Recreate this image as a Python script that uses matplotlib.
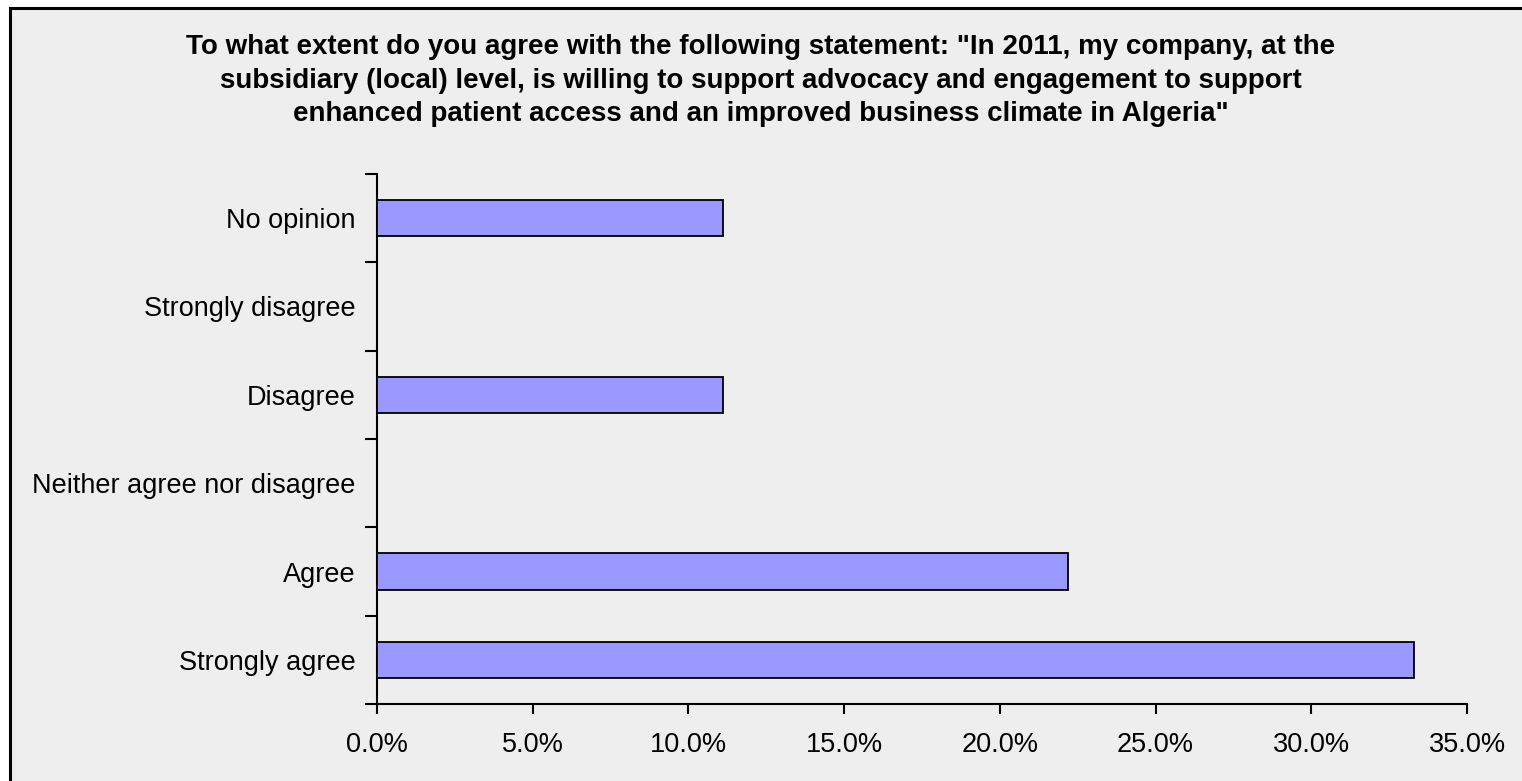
import matplotlib.pyplot as plt
from matplotlib.patches import Rectangle
from matplotlib.ticker import FixedLocator, FuncFormatter

categories = ["Strongly agree", "Agree", "Neither agree nor disagree",
              "Disagree", "Strongly disagree", "No opinion"]
values = [33.3, 22.2, 0.0, 11.1, 0.0, 11.1]
xticks = [0, 5, 10, 15, 20, 25, 30, 35]
title = ('To what extent do you agree with the following statement: "In 2011, my company, at the\n'
         'subsidiary (local) level, is willing to support advocacy and engagement to support\n'
         'enhanced patient access and an improved business climate in Algeria"')

plt.rcParams['font.family'] = ['Liberation Sans', 'DejaVu Sans']

fig = plt.figure(figsize=(15.22, 7.81), dpi=100)
fig.patch.set_facecolor('white')
# grey chart area with black frame (runs off right/bottom edges)
frame = Rectangle((9.5 / 1522, -0.05), 1.2, 1 - 7.5 / 781 + 0.05,
                  transform=fig.transFigure, facecolor='#EEEEEE',
                  edgecolor='black', linewidth=2.2, zorder=-5)
fig.patches.append(frame)

ax = fig.add_axes([377 / 1522, 1 - 704 / 781, (1467 - 377) / 1522, (704 - 174) / 781])
ax.set_zorder(2)
ax.set_facecolor('none')

pos = list(range(len(categories)))
ax.barh(pos, values, height=0.41, color='#9999FF', edgecolor='black', linewidth=1.3, zorder=3)

ax.set_xlim(0, 35)
ax.set_ylim(-0.5, len(categories) - 0.5)
ax.xaxis.set_major_locator(FixedLocator(xticks))
ax.xaxis.set_major_formatter(FuncFormatter(lambda v, p: f"{v:.1f}%"))

ax.set_yticks([p - 0.5 for p in pos] + [len(categories) - 0.5])
ax.set_yticklabels([])
ax.set_yticks(pos, minor=True)
ax.set_yticklabels(categories, minor=True)
ax.tick_params(axis='y', which='major', length=9, width=1.5, direction='out')
ax.tick_params(axis='y', which='minor', length=0, pad=15.5, labelsize=19.5)
ax.tick_params(axis='x', length=7, width=1.5, direction='out', pad=13.5, labelsize=19.5)

for s in ['top', 'right']:
    ax.spines[s].set_visible(False)
for s in ['left', 'bottom']:
    ax.spines[s].set_linewidth(1.5)

fig.text(0.5, 1 - 34 / 781, title, ha='center', va='top', fontsize=20,
         fontweight='bold', linespacing=1.38)

fig.savefig('out.png', dpi=100)
